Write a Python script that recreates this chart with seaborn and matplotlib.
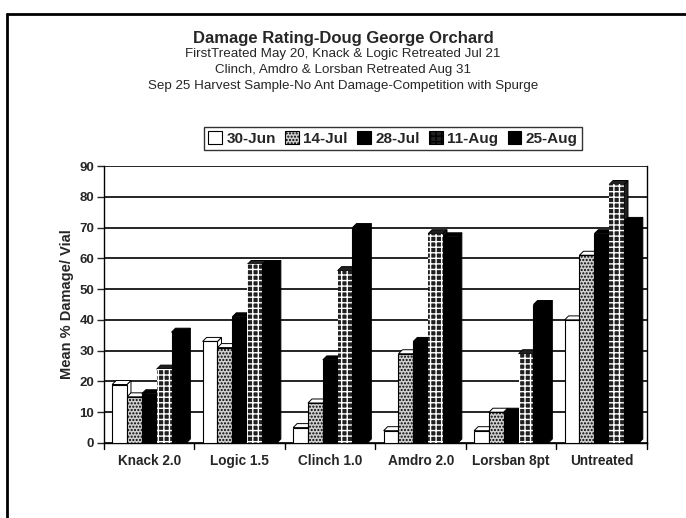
import numpy as np
import pandas as pd
import seaborn as sns
import matplotlib.pyplot as plt
from matplotlib.lines import Line2D
from matplotlib.patches import Patch, Polygon

# Values
treatments = ['Knack 2.0', 'Logic 1.5', 'Clinch 1.0', 'Amdro 2.0', 'Lorsban 8pt', 'Untreated']
dates = ['30-Jun', '14-Jul', '28-Jul', '11-Aug', '25-Aug']
jun30 = [19, 33, 5, 4, 4, 40]
jul14 = [15, 31, 13, 29, 10, 61]
jul28 = [16, 41, 27, 33, 10, 68]
aug11 = [24, 58, 56, 68, 29, 84]
aug25 = [36, 58, 70, 67, 45, 72]
yticks = list(range(0, 100, 10))

title = 'Damage Rating-Doug George Orchard'
subtitle = ['FirstTreated May 20, Knack & Logic Retreated Jul 21',
            'Clinch, Amdro & Lorsban Retreated Aug 31',
            'Sep 25 Harvest Sample-No Ant Damage-Competition with Spurge']

series = [jun30, jul14, jul28, aug11, aug25]
df = pd.DataFrame({
    'Treatment': np.repeat([treatments], len(dates), axis=0).ravel(),
    'Date': np.repeat(dates, len(treatments)),
    'Damage': np.concatenate(series),
})

# black & white print styles per date
faces = ['white', '#cfcfcf', 'black', '#202020', 'black']
hatches = [None, '.....', None, '+++', None]
edges = ['black', 'black', 'black', 'white', 'black']

sns.set_style('white')
plt.rcParams['font.family'] = ['Liberation Sans', 'DejaVu Sans']
plt.rcParams['hatch.linewidth'] = 1.0

fig = plt.figure(figsize=(6.86, 5.18), dpi=100)
ax = fig.add_axes([0.1516, 0.1448, 0.7915, 0.5347])

sns.barplot(data=df, x='Treatment', y='Damage', hue='Date', order=treatments,
            hue_order=dates, palette=faces, width=0.82, saturation=1,
            edgecolor='black', linewidth=0.8, legend=False, ax=ax, zorder=3)

ax.set_ylim(0, 90)
ax.set_xlim(-0.5, len(treatments) - 0.5)

# pseudo 3-D depth (4 px right / 4 px up) converted to data units
x_px = ax.transData.transform([(0, 0), (1, 10)])
dx = 4 / (x_px[1, 0] - x_px[0, 0])
dy = 4 / (x_px[1, 1] - x_px[0, 1]) * 10

for i, cont in enumerate(ax.containers):
    for bar in cont:
        bar.set_facecolor(faces[i])
        bar.set_edgecolor(edges[i])
        if hatches[i]:
            bar.set_hatch(hatches[i])
        if edges[i] == 'white':
            bar.set_linewidth(0)
        x0, w, h = bar.get_x(), bar.get_width(), bar.get_height()
        top = Polygon([(x0, h), (x0 + w, h), (x0 + w + dx, h + dy), (x0 + dx, h + dy)],
                      closed=True, facecolor=faces[i] if i != 1 else 'white',
                      edgecolor='black', lw=0.7, zorder=2.9)
        side = Polygon([(x0 + w, 0), (x0 + w + dx, dy), (x0 + w + dx, h + dy), (x0 + w, h)],
                       closed=True, facecolor=faces[i], edgecolor='black', lw=0.7, zorder=2.9)
        ax.add_patch(side)
        ax.add_patch(top)

ax.set_yticks(yticks)
ax.yaxis.grid(True, color='black', linewidth=1.2)
ax.set_axisbelow(True)
for s in ['left', 'bottom', 'right']:
    ax.spines[s].set_color('black')
    ax.spines[s].set_linewidth(1.0)
ax.spines['top'].set_visible(False)
ax.tick_params(axis='y', direction='out', length=5, width=1, labelsize=9.5, pad=2, left=True)
ax.tick_params(axis='x', length=0, labelsize=9.8, pad=8)
for lab in ax.get_yticklabels() + ax.get_xticklabels():
    lab.set_fontweight('bold')
ax.set_xlabel('')
ax.set_ylabel('Mean % Damage/ Vial', fontsize=10.5, fontweight='bold', labelpad=4)

# group separator ticks on the category axis
for k in range(len(treatments) + 1):
    ax.plot([k - 0.5, k - 0.5], [0, -2], color='black', lw=1, clip_on=False)

fig.text(0.5, 1 - 38 / 518, title, ha='center', va='center', fontsize=12, fontweight='bold')
for j, line in enumerate(subtitle):
    fig.text(0.5, 1 - (54 + 16 * j) / 518, line, ha='center', va='center', fontsize=9.6)

handles = [Patch(facecolor=faces[i], edgecolor='black', hatch=hatches[i], linewidth=0.8)
           for i in range(len(dates))]
leg = fig.legend(handles, dates, loc='center', bbox_to_anchor=(393 / 686, 1 - 138.5 / 518),
                 ncol=5, frameon=True, fancybox=False, edgecolor='black',
                 prop={'weight': 'bold', 'size': 11}, handlelength=0.9, handleheight=0.9,
                 handletextpad=0.3, columnspacing=0.6, borderpad=0.25, borderaxespad=0)
leg.get_frame().set_linewidth(1.0)

# outer frame of the pasted chart
fig.add_artist(Line2D([7 / 686, 1], [1 - 14 / 518] * 2, color='black', lw=2, transform=fig.transFigure))
fig.add_artist(Line2D([7 / 686] * 2, [0, 1 - 14 / 518], color='black', lw=2, transform=fig.transFigure))

plt.savefig('out.png', dpi=100)
